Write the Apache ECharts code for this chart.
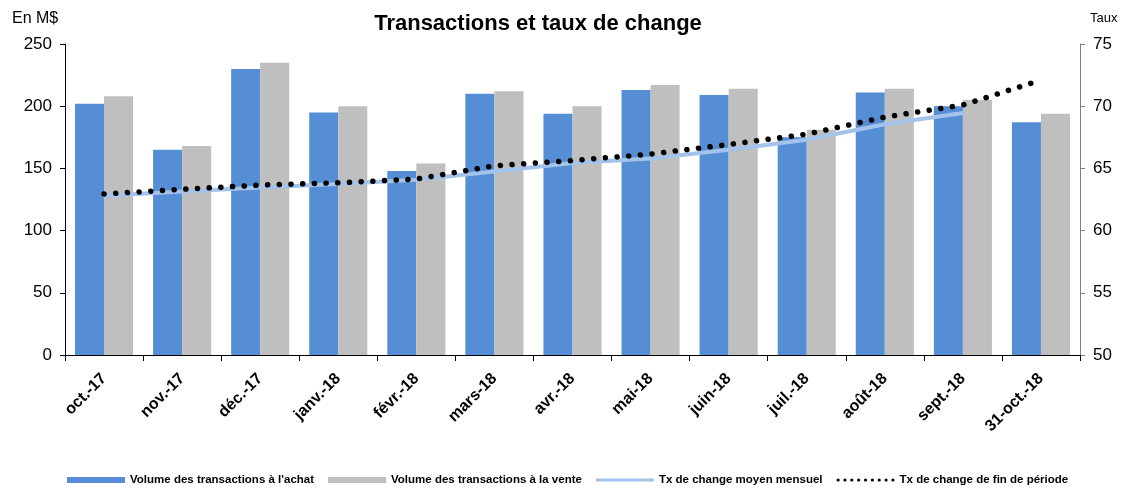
<!DOCTYPE html>
<html>
<head>
<meta charset="utf-8">
<script src="https://cdn.jsdelivr.net/npm/echarts@6/dist/echarts.min.js"></script>
<style>
html,body{margin:0;padding:0;background:#fff;}
#chart{width:1125px;height:489px;}
</style>
</head>
<body>
<div id="chart"></div>
<script>
const categories = ['oct.-17','nov.-17','déc.-17','janv.-18','févr.-18','mars-18','avr.-18','mai-18','juin-18','juil.-18','août-18','sept.-18','31-oct.-18'];
const achat = [202, 165, 230, 195, 148, 210, 194, 213, 209, 175, 211, 200, 187];
const vente = [208, 168, 235, 200, 154, 212, 200, 217, 214, 181, 214, 205, 194];
const tauxMoyen = [62.8, 63.15, 63.47, 63.74, 64.09, 64.75, 65.43, 65.8, 66.5, 67.3, 68.55, 69.45, null];
const tauxFin = [62.94, 63.32, 63.66, 63.84, 64.14, 65.21, 65.63, 66.15, 66.92, 67.75, 69.12, 70.1, 72.1];
const leftTicks = {min: 0, max: 250, interval: 50};
const rightTicks = {min: 50, max: 75, interval: 5};

const FONT = "'Liberation Sans', Arial, sans-serif";

// legend icon shapes
function dotsPath(n, w, r) {
  let p = 'path://';
  const step = (w - 2 * r) / (n - 1);
  for (let i = 0; i < n; i++) {
    const cx = r + i * step;
    p += 'M' + (cx - r) + ',' + r + 'a' + r + ',' + r + ' 0 1,0 ' + (2 * r) + ',0a' + r + ',' + r + ' 0 1,0 ' + (-2 * r) + ',0Z';
  }
  return p;
}
const lineIcon = 'path://M0,0L58,0L58,3L0,3Z';
const dotIcon = dotsPath(9, 58, 1.6);

const chart = echarts.init(document.getElementById('chart'), null, {renderer: 'canvas'});
chart.setOption({
  animation: false,
  backgroundColor: '#ffffff',
  textStyle: {fontFamily: FONT},
  title: [
    {text: 'Transactions et taux de change', left: 533, top: 8, textAlign: 'center',
     textStyle: {fontFamily: FONT, fontSize: 22, fontWeight: 'bold', color: '#000'}},
    {text: 'En M$', left: 7, top: 6, textStyle: {fontFamily: FONT, fontSize: 16, fontWeight: 'normal', color: '#000'}},
    {text: 'Taux', left: 1085, top: 7, textStyle: {fontFamily: FONT, fontSize: 13, fontWeight: 'normal', color: '#000'}}
  ],
  grid: {left: 65, right: 45, top: 44, bottom: 134, containLabel: false},
  legend: {
    left: 62, top: 469, itemWidth: 58, itemHeight: 6, itemGap: 14, symbolKeepAspect: true,
    textStyle: {fontFamily: FONT, fontSize: 11.5, fontWeight: 'bold', color: '#000'},
    data: [
      {name: "Volume des transactions à l'achat", icon: 'rect'},
      {name: 'Volume des transactions à la vente', icon: 'rect'},
      {name: 'Tx de change moyen mensuel', icon: lineIcon, itemStyle: {color: '#a3c3ea', borderWidth: 0}},
      {name: 'Tx de change de fin de période', icon: dotIcon, itemStyle: {color: '#000', borderWidth: 0}}
    ]
  },
  xAxis: {
    type: 'category', data: categories,
    axisLine: {lineStyle: {color: '#000', width: 1}},
    axisTick: {show: true, length: 6, lineStyle: {color: '#000'}},
    axisLabel: {rotate: 45, margin: 21, fontFamily: FONT, fontSize: 16, fontWeight: 'bold', color: '#000', interval: 0}
  },
  yAxis: [
    {type: 'value', min: leftTicks.min, max: leftTicks.max, interval: leftTicks.interval,
     splitLine: {show: false},
     axisLine: {show: true, lineStyle: {color: '#000'}},
     axisTick: {show: true, length: 5, lineStyle: {color: '#000'}},
     axisLabel: {margin: 13, fontFamily: FONT, fontSize: 17, color: '#000'}},
    {type: 'value', min: rightTicks.min, max: rightTicks.max, interval: rightTicks.interval,
     position: 'right', splitLine: {show: false},
     axisLine: {show: true, lineStyle: {color: '#7f7f7f'}},
     axisTick: {show: true, length: 5, lineStyle: {color: '#7f7f7f'}},
     axisLabel: {margin: 13, fontFamily: FONT, fontSize: 17, color: '#000'}}
  ],
  series: [
    {name: "Volume des transactions à l'achat", type: 'bar', data: achat, barGap: '0%', barCategoryGap: '25.6%',
     itemStyle: {color: '#558ed5'}, z: 2},
    {name: 'Volume des transactions à la vente', type: 'bar', data: vente, barGap: '0%', barCategoryGap: '25.6%',
     itemStyle: {color: '#bfbfbf'}, z: 2},
    {name: 'Tx de change moyen mensuel', type: 'line', yAxisIndex: 1, data: tauxMoyen, symbol: 'none',
     lineStyle: {color: '#a3c3ea', width: 4, cap: 'round', join: 'round'}, itemStyle: {color: '#a3c3ea'}, z: 3},
    {name: 'Tx de change de fin de période', type: 'line', yAxisIndex: 1, data: tauxFin, symbol: 'none',
     lineStyle: {color: '#000', width: 5.5, type: [0.1, 11.6], cap: 'round', join: 'round'}, itemStyle: {color: '#000'}, z: 4}
  ]
});
</script>
</body>
</html>
